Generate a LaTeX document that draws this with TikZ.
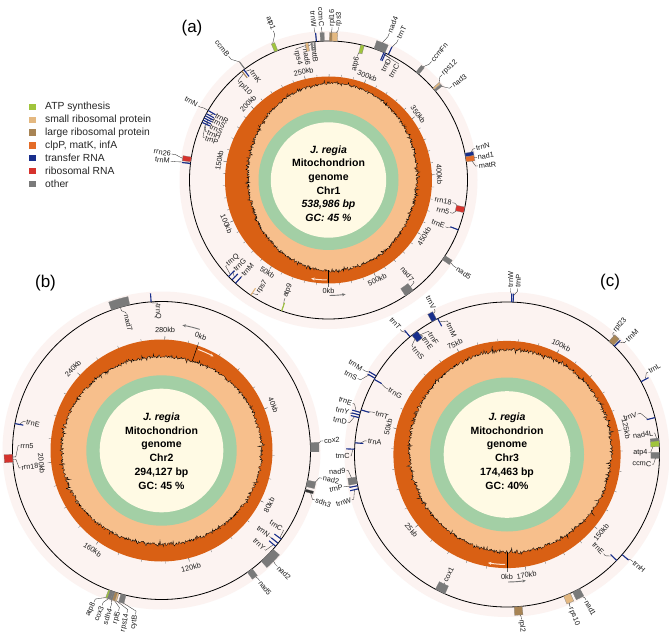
\documentclass[tikz,border=0pt]{standalone}
\usepackage{fontspec}
\setmainfont{Liberation Sans}
\usetikzlibrary{calc,arrows.meta}
\definecolor{gcor}{RGB}{217,96,20}
\definecolor{peach}{RGB}{247,191,140}
\definecolor{ringgreen}{RGB}{163,207,165}
\definecolor{cream}{RGB}{255,250,228}
\definecolor{halo}{RGB}{252,243,241}
\definecolor{arrowwhite}{RGB}{255,228,210}
\definecolor{cATP}{RGB}{160,196,60}
\definecolor{cSSU}{RGB}{228,184,128}
\definecolor{cLSU}{RGB}{168,132,84}
\definecolor{cCLP}{RGB}{228,108,40}
\definecolor{cTRNA}{RGB}{24,46,140}
\definecolor{cRRNA}{RGB}{214,50,44}
\definecolor{cOTH}{RGB}{122,122,122}
\tikzset{
 leader/.style={draw=black!80, line width=0.35pt},
 glabel/.style={font=\fontsize{7.3}{8}\selectfont, inner sep=0.8pt, text=black!90},
 kblabel/.style={font=\fontsize{7.3}{8}\selectfont, inner sep=0pt, text=black!90},
 tickmark/.style={draw=black!60, line width=0.3pt},
 maincircle/.style={draw=black, line width=0.8pt},
 centertext/.style={align=center, font=\fontsize{10.5}{13.7}\selectfont\bfseries},
 panel/.style={font=\fontsize{17}{18}\selectfont},
 legtext/.style={font=\fontsize{10.3}{11}\selectfont, inner sep=0pt, anchor=west, text=black!85},
 declare function={gcA(\x)=89+3*sin(\x)+4*cos(\x)-4.5*cos(2*\x)+1.2*rand+4*rand*rand*rand;
                   gcB(\x)=97+3*cos(2*\x)+1.2*rand+4*rand*rand*rand;
                   gcC(\x)=101+3.5*sin(\x)+3.5*cos(\x)+1.2*rand+5*rand*rand*rand;},
}
% gene box: center, angle1, angle2, side (o/i), colour
\newcommand\gbox[5]{%
  \ifx o#4\def\rIn{\mapR}\pgfmathsetmacro\rOut{\mapR+8.5}\else\pgfmathsetmacro\rIn{\mapR-8.5}\def\rOut{\mapR}\fi
  \fill[#5, draw=black!50, line width=0.25pt] ($(#1)+(#2:\rIn pt)$) arc[start angle=#2, end angle=#3, radius=\rIn pt] -- ($(#1)+(#3:\rOut pt)$) arc[start angle=#3, end angle=#2, radius=\rOut pt] -- cycle;}
% thin gene: center, angle, side, colour
\newcommand\gline[4]{%
  \ifx o#3\def\rIn{\mapR}\pgfmathsetmacro\rOut{\mapR+8.5}\else\pgfmathsetmacro\rIn{\mapR-8.5}\def\rOut{\mapR}\fi
  \draw[#4, line width=1.1pt] ($(#1)+(#2:\rIn pt)$) -- ($(#1)+(#2:\rOut pt)$);}
% gene label: center, gene angle, label angle, signed offset, text
\newcommand\glab[5]{%
  \pgfmathsetmacro\gA{#2}\pgfmathsetmacro\lA{#3}\pgfmathsetmacro\gOff{#4}%
  \pgfmathsetmacro\rA{\mapR+0.45*\gOff}\pgfmathsetmacro\rB{\mapR+0.8*\gOff}\pgfmathsetmacro\rC{\mapR+\gOff}%
  \pgfmathtruncatemacro\isR{cos(\lA)>=0 ? 1 : 0}%
  \pgfmathtruncatemacro\isO{\gOff>0 ? 1 : 0}%
  \pgfmathsetmacro\lRot{\isR==1 ? \lA : \lA+180}%
  \ifnum\isR=\isO\def\lAnc{west}\else\def\lAnc{east}\fi
  \draw[leader] ($(#1)+(\gA:\mapR pt)$) -- ($(#1)+(\gA:\rA pt)$) -- ($(#1)+(\lA:\rB pt)$) -- ($(#1)+(\lA:\rC pt)$) node[glabel, anchor=\lAnc, rotate=\lRot] {#5};}
% scale label: center, kb, text
\newcommand\kbl[3]{%
  \pgfmathsetmacro\kA{\mapT-#2/\mapL*360}%
  \pgfmathsetmacro\kRot{sin(\kA)>=0 ? \kA-90 : \kA+90}%
  \pgfmathsetmacro\kRt{\mapRo+3.5}%
  \draw[tickmark] ($(#1)+(\kA:\mapRo pt)$) -- ($(#1)+(\kA:\kRt pt)$);
  \node[kblabel, rotate=\kRot] at ($(#1)+(\kA:\kbR pt)$) {#3};}
\begin{document}
\begin{tikzpicture}[x=1pt,y=1pt]
\useasboundingbox (0,0) rectangle (669,-636);
\fill[white] (0,0) rectangle (669,-636);
\pgfmathsetseed{11}
\coordinate (A) at (328.5,-180);
\coordinate (B) at (161.5,-450.5);
\coordinate (C) at (507,-454.5);
\fill[halo] (A) circle[radius=149pt];
\fill[halo] (B) circle[radius=159pt];
\fill[halo] (C) circle[radius=162.5pt];

% ================= MAP A =================
\begin{scope}[shift={(A)}]
\fill[gcor] (0,0) circle[radius=103.5pt];
\filldraw[fill=peach, draw=black, line width=0.3pt] plot[domain=0:360, samples=900, variable=\q] (\q:{gcA(\q)}) -- cycle;
\fill[ringgreen] (0,0) circle[radius=70pt];
\fill[cream] (0,0) circle[radius=57.7pt];
\draw[black, line width=0.5pt] (-90:90.5) -- (-90:103.5);
\draw[line width=1pt, arrowwhite, -{Stealth[length=3.5pt,width=3pt]}] (-91:100pt) arc[start angle=-91, end angle=-100, radius=100pt];
\draw[line width=0.9pt, black!55, -{Stealth[length=3.5pt,width=3pt]}] (-89.5:115.5pt) arc[start angle=-89.5, end angle=-81.5, radius=115.5pt];
\end{scope}
\def\mapR{139}\def\mapL{538.986}\def\mapT{-90}\def\kbR{111}\def\mapRo{103.5}
\foreach \kk in {0,10,...,530}{\pgfmathsetmacro\tA{\mapT-\kk/\mapL*360}\draw[tickmark] ($(A)+(\tA:103.5pt)$) -- ($(A)+(\tA:105.8pt)$);}
\foreach \kk in {0,50,...,500}{\kbl{A}{\kk}{\kk kb}}
\draw[maincircle] (A) circle[radius=139pt];
\glab{A}{112.1}{110.3}{20}{atp1}
\glab{A}{95}{95.4}{14}{trnW}
\glab{A}{92.4}{92.6}{14}{ccmC}
\glab{A}{89.1}{88.7}{14}{rpl16}
\glab{A}{87.5}{86.3}{14}{rps3}
\glab{A}{99}{104}{-5}{rps4}
\glab{A}{97}{100}{-5}{nad6}
\glab{A}{95.8}{96.2}{-4}{mttB}
\glab{A}{75.8}{76.8}{-12}{atp6}
\glab{A}{68.5}{67.5}{20}{nad4}
\glab{A}{64.5}{63.6}{18}{trnT}
\glab{A}{66.5}{63.3}{-3}{trnD}
\glab{A}{65.8}{59}{-4}{trnC}
\glab{A}{50.2}{49}{18}{ccmFn}
\glab{A}{41}{42.8}{16}{rps12}
\glab{A}{40}{37.2}{16}{nad3}
\glab{A}{10.5}{12.1}{11}{trnN}
\glab{A}{9.0}{8.7}{11}{nad1}
\glab{A}{8.2}{5.4}{11}{matR}
\glab{A}{-12}{-10.4}{-13}{rrn18}
\glab{A}{-12.8}{-15}{-13}{rrn5}
\glab{A}{-21}{-21.8}{-13}{trnE}
\glab{A}{-34}{-34.5}{16}{nad5}
\glab{A}{-54.5}{-50.1}{-7}{nad7}
\glab{A}{-109.7}{-110.2}{-13}{atp9}
\glab{A}{-124}{-121.8}{-5}{rps7}
\glab{A}{-136}{-140}{-6}{trnQ}
\glab{A}{-134}{-136.2}{-8}{trnG}
\glab{A}{-132}{-132}{-10}{trnM}
\glab{A}{171.5}{170.6}{20}{rrn26}
\glab{A}{173}{173.2}{20}{trnM}
\glab{A}{150}{150.4}{11}{trnN}
\glab{A}{151.5}{150}{-8}{trnR}
\glab{A}{152.5}{152.8}{-8}{trnS}
\glab{A}{153.5}{155.6}{-8}{trnS}
\glab{A}{154.5}{158.4}{-8}{trnH}
\glab{A}{155.5}{161.2}{-8}{trnP}
\glab{A}{127}{128.9}{20}{ccmB}
\glab{A}{127.5}{125.2}{-5}{trnK}
\glab{A}{128.5}{132.4}{-6}{rpl10}
\gbox{A}{111.4}{112.8}{o}{cATP}
\gline{A}{95}{o}{cTRNA}
\gbox{A}{91.7}{93.3}{o}{cOTH}
\gbox{A}{88.6}{89.6}{o}{cLSU}
\gbox{A}{86.4}{88.6}{o}{cSSU}
\gbox{A}{98.4}{99.6}{i}{cSSU}
\gbox{A}{96.7}{97.3}{i}{cOTH}
\gbox{A}{95.5}{96.1}{i}{cOTH}
\gbox{A}{75.1}{76.6}{i}{cATP}
\gbox{A}{66.1}{70.9}{o}{cOTH}
\gline{A}{64.5}{o}{cTRNA}
\gline{A}{66.5}{i}{cTRNA}
\gline{A}{65.8}{i}{cTRNA}
\gbox{A}{49.5}{51}{o}{cOTH}
\gbox{A}{40.6}{41.4}{o}{cSSU}
\gbox{A}{39.6}{40.4}{o}{cOTH}
\gbox{A}{9.6}{11.1}{o}{cTRNA}
\gbox{A}{7.5}{9.6}{o}{cCLP}
\gbox{A}{-13.6}{-11.2}{i}{cRRNA}
\gline{A}{-21}{i}{cTRNA}
\gbox{A}{-35}{-33}{o}{cOTH}
\gbox{A}{-56.4}{-52.5}{i}{cOTH}
\gline{A}{-109.7}{i}{cATP}
\gline{A}{-124}{i}{cSSU}
\gline{A}{-136}{i}{cTRNA}
\gline{A}{-134}{i}{cTRNA}
\gline{A}{-132}{i}{cTRNA}
\gbox{A}{170.5}{172.5}{o}{cRRNA}
\gline{A}{173.2}{o}{cTRNA}
\gline{A}{150}{i}{cTRNA}
\gline{A}{151.5}{i}{cTRNA}
\gline{A}{152.5}{i}{cTRNA}
\gline{A}{153.5}{i}{cTRNA}
\gline{A}{154.5}{i}{cTRNA}
\gline{A}{155.5}{i}{cTRNA}
\gline{A}{127}{o}{cOTH}
\gline{A}{127.5}{i}{cTRNA}
\gline{A}{128.5}{i}{cLSU}
\node[centertext] (ta) at (328.5,-183.5) {\textit{J. regia}\\Mitochondrion\\genome\\Chr1\\\textit{538,986 bp}\\\textit{GC: 45 \%}};

% ================= MAP B =================
\begin{scope}[shift={(B)}]
\fill[gcor] (0,0) circle[radius=111pt];
\filldraw[fill=peach, draw=black, line width=0.3pt] plot[domain=0:360, samples=900, variable=\q] (\q:{gcB(\q)}) -- cycle;
\fill[ringgreen] (0,0) circle[radius=75.2pt];
\fill[cream] (0,0) circle[radius=61.8pt];
\draw[black, line width=0.5pt] (71:94.6) -- (71:111);
\draw[line width=1pt, arrowwhite, -{Stealth[length=3.5pt,width=3pt]}] (70:107.5pt) arc[start angle=70, end angle=61, radius=107.5pt];
\draw[line width=0.9pt, black!55, -{Stealth[length=3.5pt,width=3pt]}] (72.5:127pt) arc[start angle=72.5, end angle=80.5, radius=127pt];
\end{scope}
\def\mapR{149}\def\mapL{294.127}\def\mapT{71}\def\kbR{120.7}\def\mapRo{111}
\foreach \kk in {0,10,...,290}{\pgfmathsetmacro\tA{\mapT-\kk/\mapL*360}\draw[tickmark] ($(B)+(\tA:111pt)$) -- ($(B)+(\tA:113.3pt)$);}
\foreach \kk in {0,40,...,280}{\kbl{B}{\kk}{\kk kb}}
\draw[maincircle] (B) circle[radius=149pt];
\glab{B}{94}{91.5}{-2}{trnQ}
\glab{B}{106}{104.5}{-8}{nad7}
\glab{B}{169.6}{168}{-10}{trnE}
\glab{B}{182.5}{178}{-7}{rrn5}
\glab{B}{183.5}{187}{-7}{rrn18}
\glab{B}{1.3}{3.4}{13}{cox2}
\glab{B}{-12.7}{-9.8}{14}{nad2}
\glab{B}{-15.5}{-17.9}{12}{sdh3}
\glab{B}{-36.5}{-33.2}{-4}{trnC}
\glab{B}{-38.5}{-38.5}{-11}{trnN}
\glab{B}{-40}{-43.8}{-6}{trnY}
\glab{B}{-44.5}{-45}{15}{nad2}
\glab{B}{-53.6}{-53}{14}{nad5}
\glab{B}{-110.4}{-114}{17}{atp8}
\glab{B}{-109.5}{-111}{17}{cox3}
\glab{B}{-108.5}{-108}{17}{sdh4}
\glab{B}{-107.7}{-105}{17}{rpl5}
\glab{B}{-106.9}{-102}{17}{rps14}
\glab{B}{-104.8}{-99}{17}{cytB}
\gline{B}{94}{o}{cTRNA}
\gbox{B}{102.3}{109.6}{o}{cOTH}
\gline{B}{169.6}{i}{cTRNA}
\gbox{B}{181.5}{184.5}{o}{cRRNA}
\gbox{B}{-0.5}{3}{o}{cOTH}
\gbox{B}{-14}{-11.5}{o}{cOTH}
\gbox{B}{-16}{-15}{o}{black!80}
\gline{B}{-36.5}{i}{cTRNA}
\gline{B}{-38.5}{i}{cTRNA}
\gline{B}{-40}{i}{cTRNA}
\gbox{B}{-48}{-41.5}{o}{cOTH}
\gbox{B}{-54.8}{-52.5}{o}{cOTH}
\gbox{B}{-110.8}{-110.1}{o}{cATP}
\gbox{B}{-110.1}{-108.9}{o}{cOTH}
\gbox{B}{-108.9}{-108.2}{o}{cOTH}
\gbox{B}{-108.2}{-107.2}{o}{cLSU}
\gbox{B}{-107.2}{-106.6}{o}{cSSU}
\gbox{B}{-105.8}{-103.8}{o}{cOTH}
\node[centertext] (tb) at (161.5,-451) {\textit{J. regia}\\Mitochondrion\\genome\\Chr2\\294,127 bp\\GC: 45 \%};

% ================= MAP C =================
\begin{scope}[shift={(C)}]
\fill[gcor] (0,0) circle[radius=113.6pt];
\filldraw[fill=peach, draw=black, line width=0.3pt] plot[domain=0:360, samples=900, variable=\q] (\q:{gcC(\q)}) -- cycle;
\fill[ringgreen] (0,0) circle[radius=77pt];
\fill[cream] (0,0) circle[radius=63.3pt];
\draw[black, line width=0.5pt] (-90:97.5) -- (-90:113.6);
\draw[line width=1pt, arrowwhite, -{Stealth[length=3.5pt,width=3pt]}] (-91:110pt) arc[start angle=-91, end angle=-100, radius=110pt];
\draw[line width=0.9pt, black!55, -{Stealth[length=3.5pt,width=3pt]}] (-89.5:127.5pt) arc[start angle=-89.5, end angle=-81.5, radius=127.5pt];
\end{scope}
\def\mapR{152.5}\def\mapL{174.463}\def\mapT{-90}\def\kbR{122}\def\mapRo{113.6}
\foreach \kk in {0,5,...,170}{\pgfmathsetmacro\tA{\mapT-\kk/\mapL*360}\draw[tickmark] ($(C)+(\tA:113.6pt)$) -- ($(C)+(\tA:115.9pt)$);}
\foreach \kk in {0,25,50,75,100,125,150,170}{\kbl{C}{\kk}{\kk kb}}
\draw[maincircle] (C) circle[radius=152.5pt];
\glab{C}{88.3}{88.8}{14}{trnW}
\glab{C}{87.7}{86.3}{14}{trnP}
\glab{C}{118.5}{116.6}{10}{trnV}
\glab{C}{117}{114}{-8}{trnM}
\glab{C}{129.5}{130.5}{12}{trnT}
\glab{C}{127.5}{122.5}{-8}{trnF}
\glab{C}{126.5}{125.5}{-8}{trnE}
\glab{C}{128.3}{131.2}{-10}{trnS}
\glab{C}{149}{149.5}{15}{trnM}
\glab{C}{150}{153}{15}{trnS}
\glab{C}{150.5}{151.2}{-17}{trnG}
\glab{C}{164}{161.7}{10}{trnE}
\glab{C}{165}{165.2}{10}{trnY}
\glab{C}{166}{168.5}{10}{trnD}
\glab{C}{163}{162.5}{-14}{trnT}
\glab{C}{175.6}{174.5}{-12}{trnA}
\glab{C}{178}{180.5}{4}{trnC}
\glab{C}{189.5}{185.7}{9}{nad9}
\glab{C}{191.8}{191.2}{14}{trnP}
\glab{C}{193}{196.3}{9}{trnW}
\glab{C}{-116}{-115.9}{-10}{cox1}
\glab{C}{-85.8}{-85}{13}{rpl2}
\glab{C}{-66.8}{-67.5}{13}{rps10}
\glab{C}{-63}{-61.5}{13}{nad1}
\glab{C}{-44}{-45.8}{-14}{trnE}
\glab{C}{-41}{-40.4}{13}{trnH}
\glab{C}{-0.4}{-3.8}{-7}{ccmC}
\glab{C}{4.2}{0.9}{-11}{atp4}
\glab{C}{5.7}{8.3}{-4}{nad4L}
\glab{C}{14}{17.2}{-16}{trnV}
\glab{C}{28.5}{30.3}{11}{trnL}
\glab{C}{46.7}{48.8}{10}{rpl23}
\glab{C}{45.5}{43.6}{12}{trnM}
\gline{C}{88.3}{o}{cTRNA}
\gline{C}{87.7}{o}{cTRNA}
\gbox{C}{117.5}{119.5}{o}{cTRNA}
\gline{C}{117}{i}{cTRNA}
\gline{C}{129.5}{o}{cTRNA}
\gbox{C}{126}{128.6}{i}{cTRNA}
\gline{C}{149}{o}{cTRNA}
\gline{C}{150}{o}{cTRNA}
\gline{C}{150.5}{i}{cTRNA}
\gline{C}{164}{o}{cTRNA}
\gline{C}{165}{o}{cTRNA}
\gline{C}{166}{o}{cTRNA}
\gline{C}{163}{i}{cTRNA}
\gline{C}{175.6}{i}{cTRNA}
\gline{C}{178}{o}{cTRNA}
\gbox{C}{188.5}{191}{o}{cOTH}
\gline{C}{191.8}{o}{cTRNA}
\gline{C}{193}{o}{cTRNA}
\gbox{C}{-118}{-114}{i}{cOTH}
\gbox{C}{-87.3}{-84.3}{o}{cLSU}
\gbox{C}{-68.2}{-65.5}{o}{cSSU}
\gbox{C}{-64.5}{-61.5}{o}{cOTH}
\gline{C}{-44}{i}{cTRNA}
\gline{C}{-41}{o}{cTRNA}
\gbox{C}{-1.5}{0.8}{i}{cOTH}
\gbox{C}{3}{5.2}{i}{cATP}
\gbox{C}{5.2}{6.2}{i}{cOTH}
\gline{C}{14}{i}{cTRNA}
\gline{C}{28.5}{o}{cTRNA}
\gbox{C}{45.8}{48}{o}{cLSU}
\gline{C}{45.2}{o}{cTRNA}
\node[centertext] (tc) at (507,-451) {\textit{J. regia}\\Mitochondrion\\genome\\Chr3\\174,463 bp\\GC: 40\%};

% panel letters
\node[panel] (pa) at (192,-28) {(a)};
\node[panel] (pb) at (45.5,-283.5) {(b)};
\node[panel] (pc) at (610,-282.5) {(c)};

% legend
\foreach \lc/\lt [count=\i from 0] in {cATP/ATP synthesis, cSSU/small ribosomal protein, cLSU/large ribosomal protein, cCLP/{clpP, matK, infA}, cTRNA/transfer RNA, cRRNA/ribosomal RNA, cOTH/other}{
  \fill[\lc] (29,{-103.8-12.8*\i}) rectangle ++(6.5,-6.5);
  \node[legtext] (leg\i) at (45,{-107.1-12.8*\i}) {\lt};
}
\end{tikzpicture}
\end{document}
